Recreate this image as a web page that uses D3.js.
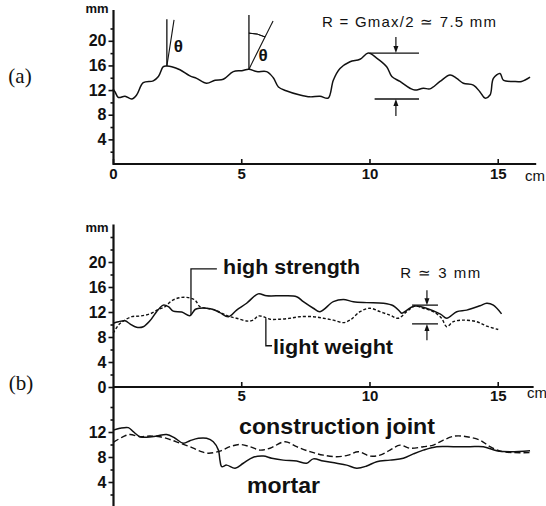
<!DOCTYPE html>
<html><head><meta charset="utf-8">
<script src="https://cdn.jsdelivr.net/npm/d3@7"></script>
<style>
html,body{margin:0;padding:0;background:#fff;}
svg{display:block;}
</style></head>
<body>
<svg id="chart" width="546" height="506"></svg>
<script>
// ---------- DATA ----------
// (a) single surface profile: [cm, mm]
const profileA = [[0.0,12.2],[0.08,11.7],[0.21,10.8],[0.47,11.0],[0.73,10.55],[0.92,11.2],[1.18,13.2],[1.57,13.5],[1.77,14.2],[1.96,15.8],[2.1,15.9],[2.29,15.8],[2.61,15.3],[3.0,14.3],[3.26,13.9],[3.65,13.1],[3.98,13.6],[4.3,13.75],[4.69,15.0],[5.02,15.15],[5.3,15.4],[5.6,15.0],[5.99,15.0],[6.25,14.0],[6.45,12.5],[6.75,11.9],[7.29,11.2],[7.68,10.9],[8.07,11.0],[8.39,10.7],[8.59,13.6],[8.85,15.5],[9.24,16.6],[9.63,17.0],[9.95,18.0],[10.28,17.2],[10.67,15.8],[10.87,14.2],[11.19,13.4],[11.58,12.3],[11.77,12.0],[12.1,12.3],[12.36,12.2],[12.75,13.4],[13.14,14.45],[13.4,13.9],[13.66,13.1],[14.05,12.8],[14.31,11.7],[14.5,10.7],[14.7,11.2],[14.83,13.9],[15.09,14.7],[15.22,13.6],[15.61,13.4],[15.93,13.4],[16.26,14.1]];

// (b) upper group
const highStrength = [[0.01,10.2],[0.21,10.45],[0.47,10.6],[0.66,10.1],[0.92,9.55],[1.18,9.65],[1.44,10.6],[1.7,12.05],[1.96,13.1],[2.16,12.85],[2.35,12.15],[2.68,12.0],[3.0,11.4],[3.2,12.4],[3.39,12.6],[3.65,12.6],[3.91,12.4],[4.17,11.9],[4.5,11.25],[4.82,12.3],[5.21,13.4],[5.66,14.9],[5.99,14.6],[6.64,14.6],[7.16,14.45],[7.42,13.65],[7.81,12.6],[8.07,12.05],[8.59,13.65],[8.98,14.0],[9.37,13.65],[9.89,13.5],[10.54,13.4],[10.93,13.0],[11.19,12.05],[11.26,11.8],[11.77,12.95],[12.75,11.7],[13.01,11.0],[13.4,12.05],[13.79,12.3],[14.31,13.0],[14.57,13.4],[14.83,13.1],[15.15,11.7]];
const lightWeight = [[0.01,8.6],[0.21,9.9],[0.4,10.55],[0.73,11.25],[1.05,11.35],[1.44,11.7],[1.77,12.4],[2.03,12.85],[2.29,13.8],[2.61,14.3],[2.94,14.3],[3.2,13.9],[3.39,12.85],[3.65,12.6],[3.98,12.3],[4.3,11.7],[4.56,11.25],[4.82,11.0],[5.21,10.55],[5.47,10.7],[5.66,11.35],[5.86,11.25],[6.12,10.85],[6.51,10.85],[6.9,11.0],[7.29,11.25],[7.81,11.25],[8.2,11.0],[8.59,10.7],[8.98,10.3],[9.24,10.7],[9.63,12.05],[10.02,12.6],[10.41,12.05],[10.8,11.5],[11.12,11.0],[11.45,12.05],[11.77,12.95],[12.1,12.6],[12.49,12.05],[12.81,11.0],[13.01,9.65],[13.27,10.45],[13.66,10.7],[14.18,10.45],[14.57,9.75],[15.02,9.2]];

// (b) lower group
const mortar = [[0.01,12.3],[0.27,12.6],[0.6,12.7],[0.79,12.05],[1.05,11.25],[1.31,11.15],[1.7,11.35],[2.09,11.6],[2.42,11.0],[2.74,10.2],[3.0,10.6],[3.33,11.0],[3.65,11.0],[3.91,10.45],[4.11,9.1],[4.17,7.5],[4.24,6.45],[4.43,6.7],[4.76,6.2],[5.08,7.0],[5.47,7.95],[5.86,8.15],[6.19,7.8],[6.64,7.5],[7.16,7.35],[7.55,7.0],[7.81,7.7],[8.2,7.35],[8.72,7.0],[9.11,6.7],[9.5,6.2],[9.89,6.55],[10.28,7.25],[10.8,7.5],[11.32,7.8],[11.71,8.5],[12.1,9.1],[12.62,9.65],[13.27,9.65],[13.92,9.65],[14.44,9.65],[14.96,9.0],[15.48,8.85],[16.26,9.0]];
const constructionJoint = [[0.01,10.35],[0.4,11.25],[0.66,11.6],[1.05,11.25],[1.44,11.35],[1.83,11.25],[2.22,10.8],[2.61,10.2],[3.0,9.65],[3.39,8.95],[3.72,8.6],[4.17,8.95],[4.56,9.65],[4.95,10.0],[5.34,9.65],[5.73,9.1],[6.12,9.4],[6.71,10.45],[7.16,9.65],[7.68,8.85],[8.2,8.3],[8.72,8.05],[9.17,8.3],[9.56,8.85],[10.02,8.15],[10.41,8.3],[10.8,9.1],[11.19,9.9],[11.58,9.4],[12.1,9.65],[12.49,9.9],[12.88,10.7],[13.33,11.35],[13.79,11.25],[14.31,10.7],[14.7,9.65],[15.09,8.95],[15.61,8.7],[16.26,8.7]];

// tick labels
const xTicksA = [0,5,10,15];
const xTicksB = [5,10,15];
const yTicksMajor = [4,8,12,16,20];
const yTicksMinor = [2,6,10,14,18,22];
const yTicksLowerMajor = [4,8,12];
const yTicksLowerMinor = [2,6,10,14,16];

// annotations (data coordinates)
const thetaLines = [
  {peak:[2.1,15.9], top:23.5, tip:[2.38,23.4], label:[2.55,18.2], arc:false},
  {peak:[5.3,15.4], top:24.2, tip:[6.24,23.2], label:[5.85,16.8], arc:true}
];
const rA = {upper:{x0:10.0,x1:11.93,y:18.0}, lower:{x0:10.2,x1:11.93,y:10.55}, ax:11.03, aTop:20.6, aBot:7.8, text:"R = Gmax/2 \u2243 7.5 mm", tx:[8.15,22.2]};
const rB = {upper:{x0:11.66,x1:12.67,y:13.1}, lower:{x0:11.66,x1:12.67,y:10.1}, ax:12.24, aTop:15.5, aBot:7.5, text:"R \u2243 3 mm", tx:[11.2,17.4]};

// ---------- DRAW ----------
const svg = d3.select("#chart");
const BLACK = "#111";
const SANS = "'Liberation Sans', Arial, Helvetica, sans-serif";

const x = d3.scaleLinear().domain([0,16.5]).range([113, 536.2]);
const yA = d3.scaleLinear().domain([0,25]).range([164, 10]);
const yB = d3.scaleLinear().domain([0,26]).range([387, 224.5]);
const yC = d3.scaleLinear().domain([0,16]).range([507, 407]);
const AX = 113.5;

function styleAxis(g, size, weight){
  g.selectAll("path.domain").remove();
  g.selectAll("line").attr("stroke", BLACK).attr("stroke-width", 1.6);
  g.selectAll("text").attr("fill", BLACK).attr("font-family", SANS).attr("font-size", size).attr("font-weight", weight);
}

// ---- panel (a) ----
const gA = svg.append("g");
gA.append("line").attr("x1",AX).attr("x2",AX).attr("y1",yA(25)).attr("y2",yA(0)+1).attr("stroke",BLACK).attr("stroke-width",2.2);
gA.append("line").attr("x1",AX).attr("x2",x(16.5)).attr("y1",yA(0)).attr("y2",yA(0)).attr("stroke",BLACK).attr("stroke-width",2.2);
gA.append("g").attr("transform",`translate(${AX},0)`)
  .call(d3.axisLeft(yA).tickValues(yTicksMajor).tickSize(5).tickPadding(2).tickFormat(d3.format("d")))
  .call(g=>styleAxis(g,16,"bold"));
gA.append("g").attr("transform",`translate(${AX},0)`)
  .call(d3.axisLeft(yA).tickValues(yTicksMinor).tickSize(3).tickFormat(""))
  .call(g=>styleAxis(g,16,"bold"));
gA.append("g").attr("transform",`translate(0,${yA(0)})`)
  .call(d3.axisBottom(x).tickValues(xTicksA).tickSize(-5).tickPadding(4).tickFormat(d3.format("d")))
  .call(g=>styleAxis(g,15,"bold"));
gA.append("text").attr("x",97).attr("y",13).attr("text-anchor","middle").attr("font-family",SANS).attr("font-weight","bold").attr("font-size",13).attr("fill",BLACK).text("mm");
gA.append("text").attr("x",535).attr("y",181).attr("text-anchor","middle").attr("font-family",SANS).attr("font-size",15).attr("fill",BLACK).text("cm");
gA.append("text").attr("x",20).attr("y",83).attr("text-anchor","middle").attr("font-family","'Liberation Serif','DejaVu Serif',serif").attr("font-size",21).attr("fill",BLACK).text("(a)");

const lineA = d3.line().x(d=>x(d[0])).y(d=>yA(d[1])).curve(d3.curveCatmullRom.alpha(0.5));
gA.append("path").datum(profileA).attr("d",lineA).attr("fill","none").attr("stroke",BLACK).attr("stroke-width",1.5);

// theta annotations
thetaLines.forEach(t=>{
  const px=x(t.peak[0]), py=yA(t.peak[1]);
  gA.append("line").attr("x1",px).attr("x2",px).attr("y1",py).attr("y2",yA(t.top)).attr("stroke",BLACK).attr("stroke-width",1.3);
  gA.append("line").attr("x1",px).attr("x2",x(t.tip[0])).attr("y1",py).attr("y2",yA(t.tip[1])).attr("stroke",BLACK).attr("stroke-width",1.1);
  if(t.arc){
    const dx=x(t.tip[0])-px, dy=yA(t.tip[1])-py;
    const ang=Math.atan2(dx,-dy), r=36;
    const arc=d3.arc().innerRadius(r).outerRadius(r).startAngle(0).endAngle(ang);
    gA.append("path").attr("transform",`translate(${px},${py})`).attr("d",arc()).attr("fill","none").attr("stroke",BLACK).attr("stroke-width",1);
  }
  gA.append("text").attr("x",x(t.label[0])).attr("y",yA(t.label[1])).attr("text-anchor","middle").attr("font-family",SANS).attr("font-weight","bold").attr("font-size",17).attr("fill",BLACK).text("\u03b8");
});

function arrow(g, xs, ys, xd, yFrom, yTo){
  const xp=xs(xd), y1=ys(yFrom), y2=ys(yTo);
  const dir = y2>y1?1:-1;
  g.append("line").attr("x1",xp).attr("x2",xp).attr("y1",y1).attr("y2",y2-dir*5).attr("stroke",BLACK).attr("stroke-width",1.2);
  g.append("path").attr("d",`M${xp},${y2} L${xp-2.5},${y2-dir*7} L${xp+2.5},${y2-dir*7} Z`).attr("fill",BLACK);
}
function rAnnot(g, ys, r, fsize, tlen){
  [r.upper,r.lower].forEach(l=>{
    g.append("line").attr("x1",x(l.x0)).attr("x2",x(l.x1)).attr("y1",ys(l.y)).attr("y2",ys(l.y)).attr("stroke",BLACK).attr("stroke-width",1.3);
  });
  arrow(g,x,ys,r.ax,r.aTop,r.upper.y);
  arrow(g,x,ys,r.ax,r.aBot,r.lower.y);
  g.append("text").attr("x",x(r.tx[0])).attr("y",ys(r.tx[1])).attr("font-family",SANS).attr("font-size",fsize).attr("fill",BLACK)
   .attr("textLength",tlen).attr("lengthAdjust","spacing").text(r.text);
}
rAnnot(gA, yA, rA, 15, 174);

// ---- panel (b) ----
const gB = svg.append("g");
gB.append("line").attr("x1",AX).attr("x2",AX).attr("y1",yB(26)).attr("y2",506).attr("stroke",BLACK).attr("stroke-width",2.2);
gB.append("line").attr("x1",AX).attr("x2",x(16.4)).attr("y1",yB(0)).attr("y2",yB(0)).attr("stroke",BLACK).attr("stroke-width",2.2);
gB.append("g").attr("transform",`translate(${AX},0)`)
  .call(d3.axisLeft(yB).tickValues([0].concat(yTicksMajor)).tickSize(5).tickPadding(2).tickFormat(d3.format("d")))
  .call(g=>styleAxis(g,16,"bold"));
gB.append("g").attr("transform",`translate(${AX},0)`)
  .call(d3.axisLeft(yB).tickValues(yTicksMinor.concat([24])).tickSize(3).tickFormat(""))
  .call(g=>styleAxis(g,16,"bold"));
gB.append("g").attr("transform",`translate(${AX},0)`)
  .call(d3.axisLeft(yC).tickValues(yTicksLowerMajor).tickSize(5).tickPadding(2).tickFormat(d3.format("d")))
  .call(g=>styleAxis(g,16,"bold"));
gB.append("g").attr("transform",`translate(${AX},0)`)
  .call(d3.axisLeft(yC).tickValues(yTicksLowerMinor).tickSize(3).tickFormat(""))
  .call(g=>styleAxis(g,16,"bold"));
gB.append("g").attr("transform",`translate(0,${yB(0)})`)
  .call(d3.axisBottom(x).tickValues(xTicksB).tickSize(-5).tickPadding(3).tickFormat(d3.format("d")))
  .call(g=>styleAxis(g,15,"bold"));
gB.append("text").attr("x",97).attr("y",232).attr("text-anchor","middle").attr("font-family",SANS).attr("font-weight","bold").attr("font-size",13).attr("fill",BLACK).text("mm");
gB.append("text").attr("x",537).attr("y",398).attr("text-anchor","middle").attr("font-family",SANS).attr("font-size",15).attr("fill",BLACK).text("cm");
gB.append("text").attr("x",21).attr("y",390).attr("text-anchor","middle").attr("font-family","'Liberation Serif','DejaVu Serif',serif").attr("font-size",21).attr("fill",BLACK).text("(b)");

const lineB = d3.line().x(d=>x(d[0])).y(d=>yB(d[1])).curve(d3.curveCatmullRom.alpha(0.5));
const lineC = d3.line().x(d=>x(d[0])).y(d=>yC(d[1])).curve(d3.curveCatmullRom.alpha(0.5));
gB.append("path").datum(lightWeight).attr("d",lineB).attr("fill","none").attr("stroke",BLACK).attr("stroke-width",1.4).attr("stroke-dasharray","3,2");
gB.append("path").datum(highStrength).attr("d",lineB).attr("fill","none").attr("stroke",BLACK).attr("stroke-width",1.5);
gB.append("path").datum(constructionJoint).attr("d",lineC).attr("fill","none").attr("stroke",BLACK).attr("stroke-width",1.4).attr("stroke-dasharray","6,3");
gB.append("path").datum(mortar).attr("d",lineC).attr("fill","none").attr("stroke",BLACK).attr("stroke-width",1.5);

// leaders and labels
const leaderHS = [[3.04,11.5],[3.04,18.9],[4.05,18.9]];
const leaderLW = [[5.96,11.0],[5.96,6.6],[6.2,6.6]];
const straight = d3.line().x(d=>x(d[0])).y(d=>yB(d[1]));
gB.append("path").attr("d",straight(leaderHS)).attr("fill","none").attr("stroke",BLACK).attr("stroke-width",1.3);
gB.append("path").attr("d",straight(leaderLW)).attr("fill","none").attr("stroke",BLACK).attr("stroke-width",1.3);
gB.append("text").attr("x",x(4.29)).attr("y",274).attr("font-family",SANS).attr("font-weight","bold").attr("font-size",20).attr("fill",BLACK).attr("textLength",137).attr("lengthAdjust","spacingAndGlyphs").text("high strength");
gB.append("text").attr("x",x(6.24)).attr("y",354).attr("font-family",SANS).attr("font-weight","bold").attr("font-size",20).attr("fill",BLACK).attr("textLength",120).attr("lengthAdjust","spacingAndGlyphs").text("light weight");
gB.append("text").attr("x",239).attr("y",434).attr("font-family",SANS).attr("font-weight","bold").attr("font-size",22).attr("fill",BLACK).attr("textLength",196).attr("lengthAdjust","spacingAndGlyphs").text("construction joint");
gB.append("text").attr("x",247).attr("y",493).attr("font-family",SANS).attr("font-weight","bold").attr("font-size",22).attr("fill",BLACK).attr("textLength",73).attr("lengthAdjust","spacingAndGlyphs").text("mortar");
rAnnot(gB, yB, rB, 15, 80);
</script>
</body></html>
